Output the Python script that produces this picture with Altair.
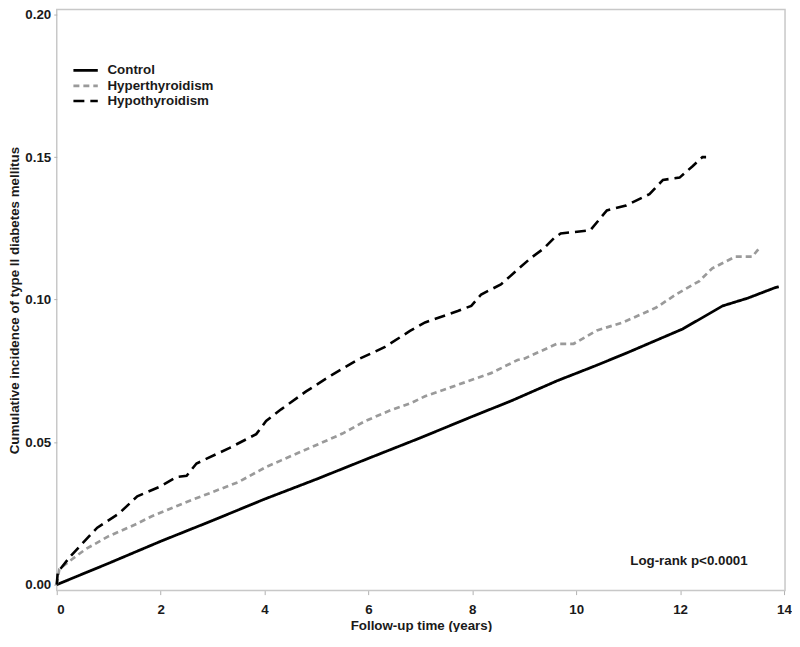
import altair as alt
import pandas as pd

# ---- data ----
groups = ["Control", "Hyperthyroidism", "Hypothyroidism"]

control_t = [0, 1, 2, 3, 4, 5, 6, 7, 8, 8.74, 9.63, 10.4, 11, 12.05, 12.82, 13.3, 13.83, 13.9]
control_v = [0, 0.0075, 0.0152, 0.0225, 0.0300, 0.037, 0.0443, 0.0515, 0.059, 0.0644,
             0.0715, 0.077, 0.0815, 0.0897, 0.0978, 0.1005, 0.1042, 0.1045]

hyper_t = [0, 0.05, 0.3, 0.56, 1.0, 1.5, 1.83, 2.5, 3.0, 3.5, 4.03, 4.32, 5.0, 5.5, 5.94,
           6.4, 6.83, 7.09, 7.72, 8.36, 8.87, 9.0, 9.63, 9.95, 10.4, 10.9, 11.54, 11.92,
           12.37, 12.62, 13.07, 13.39, 13.55]
hyper_v = [0, 0.0055, 0.009, 0.0125, 0.017, 0.021, 0.024, 0.029, 0.0325, 0.036, 0.0413,
           0.0436, 0.049, 0.053, 0.0574, 0.061, 0.0638, 0.0661, 0.0701, 0.0742, 0.0788,
           0.0793, 0.0845, 0.0845, 0.0892, 0.092, 0.0972, 0.1018, 0.1065, 0.111, 0.1151,
           0.1151, 0.1186]

hypo_t = [0, 0.02, 0.27, 0.78, 1.2, 1.55, 2.0, 2.31, 2.5, 2.69, 3.33, 3.84, 4.03, 4.32,
          4.8, 5.3, 5.8, 6.32, 6.8, 7.09, 7.72, 7.98, 8.17, 8.55, 8.87, 9.12, 9.38, 9.57,
          9.7, 10.27, 10.59, 10.96, 11.41, 11.67, 11.99, 12.24, 12.43, 12.5]
hypo_v = [0, 0.0044, 0.0101, 0.020, 0.025, 0.031, 0.0345, 0.0378, 0.0382, 0.0425, 0.048,
          0.0528, 0.0574, 0.0615, 0.0678, 0.0736, 0.079, 0.0834, 0.089, 0.092, 0.096,
          0.0978, 0.1018, 0.1053, 0.1105, 0.1145, 0.118, 0.1215, 0.1232, 0.1243, 0.1313,
          0.133, 0.137, 0.142, 0.1428, 0.1468, 0.15, 0.15]

x_ticks = [0, 2, 4, 6, 8, 10, 12, 14]
y_ticks = [0.0, 0.05, 0.10, 0.15, 0.20]

note_text = ["Log-rank p<0.0001"]
note_t = [11.04]
note_v = [0.0084]

rows = []
for g, ts, vs in [(groups[0], control_t, control_v),
                  (groups[1], hyper_t, hyper_v),
                  (groups[2], hypo_t, hypo_v)]:
    for i, (t, v) in enumerate(zip(ts, vs)):
        rows.append({"group": g, "t": t, "v": v, "order": i})
df = pd.DataFrame(rows)
notes = pd.DataFrame({"label": note_text, "t": note_t, "v": note_v})

FONT = "Liberation Sans"
FS = 13.4
colors = ["#000000", "#9a9a9a", "#000000"]
dashes = [[1, 0], [6, 4], [11, 6]]
widths = [2.8, 2.6, 3.2]

xscale = alt.Scale(domain=[0, 14.02], nice=False, zero=False)
yscale = alt.Scale(domain=[-0.0021, 0.20175], nice=False, zero=False)


def legend():
    return alt.Legend(title=None, orient="none", legendX=21, legendY=53,
                      symbolType="M-2,0H2", symbolSize=150,
                      symbolStrokeWidth=3, labelOffset=14,
                      rowPadding=1.2, padding=0,
                      labelFont=FONT, labelFontSize=FS,
                      labelFontWeight="bold", labelColor="#1a1a1a")


lines = alt.Chart(df).mark_line(strokeCap="butt").encode(
    x=alt.X("t:Q", scale=xscale,
            axis=alt.Axis(values=x_ticks, format="d", title="Follow-up time (years)",
                          titlePadding=3, labelPadding=8, tickSize=4)),
    y=alt.Y("v:Q", scale=yscale,
            axis=alt.Axis(values=y_ticks, format=".2f",
                          title="Cumulative incidence of type II diabetes mellitus",
                          titlePadding=3, labelPadding=3, tickSize=3)),
    color=alt.Color("group:N", scale=alt.Scale(domain=groups, range=colors), legend=legend()),
    strokeDash=alt.StrokeDash("group:N", scale=alt.Scale(domain=groups, range=dashes),
                              legend=legend()),
    strokeWidth=alt.StrokeWidth("group:N", scale=alt.Scale(domain=groups, range=widths),
                                legend=None),
    order="order:Q",
)

note = alt.Chart(notes).mark_text(align="left", baseline="middle", font=FONT,
                                  fontSize=FS, fontWeight="bold", color="#1a1a1a").encode(
    x=alt.X("t:Q", scale=xscale),
    y=alt.Y("v:Q", scale=yscale),
    text="label:N",
)

chart = alt.layer(lines, note).properties(
    width=732, height=584,
    autosize=alt.AutoSizeParams(type="none"),
    padding={"left": 49, "top": 0, "right": 7, "bottom": 40},
).configure_view(
    stroke="#c8c8c8", strokeWidth=1.5
).configure_axis(
    domain=False, grid=False,
    tickColor="#b0b0b0", tickWidth=1,
    labelFont=FONT, labelFontSize=FS, labelFontWeight="bold", labelColor="#1a1a1a",
    titleFont=FONT, titleFontSize=FS, titleFontWeight="bold", titleColor="#1a1a1a",
)

chart.save("out.html", embed_options={"renderer": "svg", "actions": False})
